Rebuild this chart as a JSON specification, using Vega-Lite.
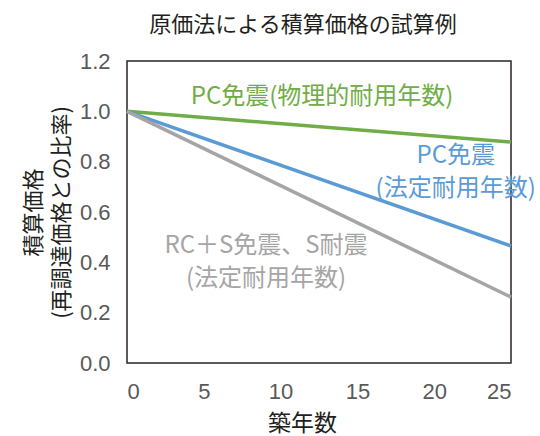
{
  "$schema": "https://vega.github.io/schema/vega-lite/v6.json",
  "autosize": "none",
  "width": 384,
  "height": 302,
  "padding": {"left": 127, "top": 61, "right": 29, "bottom": 73},
  "background": "white",
  "config": {
    "font": "Noto Sans CJK JP",
    "view": {"stroke": "#2b2523", "strokeWidth": 1.5}
  },
  "title": {
    "text": "原価法による積算価格の試算例",
    "font": "Noto Sans CJK JP",
    "fontSize": 22,
    "fontWeight": "normal",
    "color": "#231f20",
    "anchor": "middle",
    "dx": -16,
    "offset": 13
  },
  "datasets": {
    "lines": [
      {"year": 0, "ratio": 1.0, "series": "green"},
      {"year": 25, "ratio": 0.878, "series": "green"},
      {"year": 0, "ratio": 1.0, "series": "blue"},
      {"year": 25, "ratio": 0.465, "series": "blue"},
      {"year": 0, "ratio": 1.0, "series": "gray"},
      {"year": 25, "ratio": 0.262, "series": "gray"}
    ],
    "labels": [
      {"year": 12.7, "ratio": 1.057, "label": "PC免震(物理的耐用年数)", "series": "green"},
      {"year": 21.4, "ratio": 0.8225, "label": "PC免震", "series": "blue"},
      {"year": 21.4, "ratio": 0.691, "label": "(法定耐用年数)", "series": "blue"},
      {"year": 9.05, "ratio": 0.465, "label": "RC＋S免震、S耐震", "series": "gray"},
      {"year": 9.05, "ratio": 0.334, "label": "(法定耐用年数)", "series": "gray"}
    ]
  },
  "layer": [
    {
      "data": {"name": "lines"},
      "mark": {"type": "line", "strokeWidth": 3.5},
      "encoding": {
        "x": {
          "field": "year", "type": "quantitative",
          "scale": {"domain": [0, 25], "nice": false},
          "axis": {
            "title": "築年数", "titleFont": "Noto Sans CJK JP", "titleFontSize": 23, "titleFontWeight": "normal", "titleColor": "#231f20", "titlePadding": 10, "titleX": 175,
            "values": [0, 5, 10, 15, 20, 25], "labelFont": "Liberation Sans", "labelFontSize": 22, "labelColor": "#595959", "labelPadding": 18,
            "domain": false, "ticks": false, "grid": false
          }
        },
        "y": {
          "field": "ratio", "type": "quantitative",
          "scale": {"domain": [0, 1.2], "nice": false},
          "axis": {
            "title": ["積算価格", "(再調達価格との比率)"], "titleFont": "Noto Sans CJK JP", "titleFontSize": 22, "titleFontWeight": "normal", "titleColor": "#231f20", "titlePadding": 6, "titleLineHeight": 28,
            "values": [0, 0.2, 0.4, 0.6, 0.8, 1.0, 1.2], "format": ".1f", "labelFont": "Liberation Sans", "labelFontSize": 22, "labelColor": "#595959", "labelPadding": 17, "labelBaseline": "middle", "labelOffset": 0,
            "domain": false, "ticks": false, "grid": false
          }
        },
        "color": {
          "field": "series", "type": "nominal",
          "scale": {"domain": ["green", "blue", "gray"], "range": ["#70AD47", "#5B9BD5", "#A5A5A5"]},
          "legend": null
        }
      }
    },
    {
      "data": {"name": "labels"},
      "mark": {"type": "text", "fontSize": 24, "font": "Noto Sans CJK JP", "align": "center", "baseline": "middle"},
      "encoding": {
        "x": {"field": "year", "type": "quantitative"},
        "y": {"field": "ratio", "type": "quantitative"},
        "text": {"field": "label"},
        "color": {"field": "series", "type": "nominal", "legend": null}
      }
    }
  ]
}
